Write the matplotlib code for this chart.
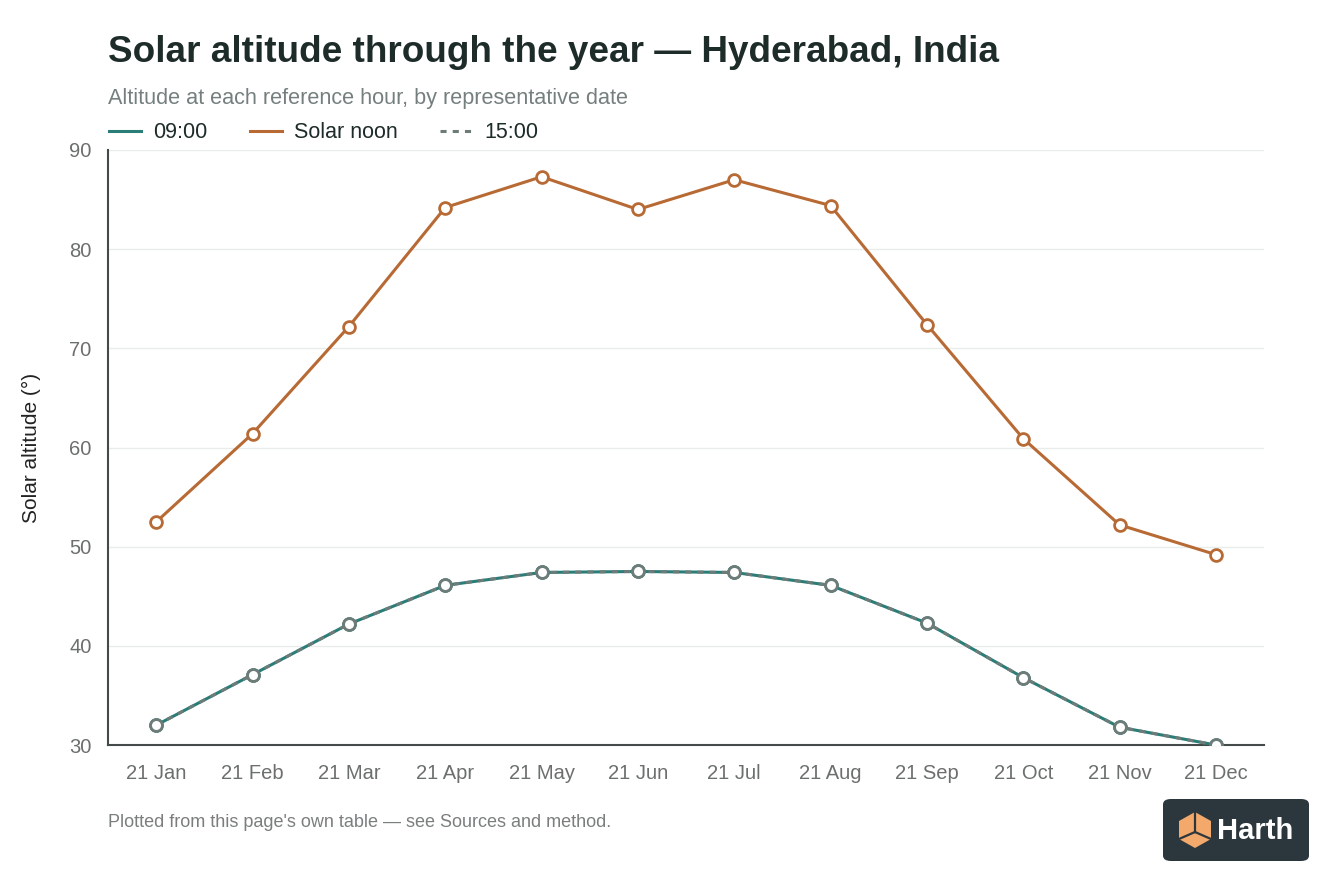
import matplotlib
matplotlib.use("Agg")
import matplotlib.pyplot as plt
from matplotlib.patches import FancyBboxPatch, Polygon
from matplotlib.lines import Line2D

plt.rcParams['font.family'] = ['Liberation Sans', 'DejaVu Sans']

# data
dates = ["21 Jan", "21 Feb", "21 Mar", "21 Apr", "21 May", "21 Jun",
         "21 Jul", "21 Aug", "21 Sep", "21 Oct", "21 Nov", "21 Dec"]
alt_0900 = [32.0, 37.1, 42.2, 46.1, 47.4, 47.5, 47.4, 46.1, 42.3, 36.8, 31.8, 30.0]
alt_noon = [52.5, 61.4, 72.2, 84.2, 87.3, 84.0, 87.0, 84.4, 72.4, 60.9, 52.2, 49.2]
alt_1500 = [32.0, 37.1, 42.2, 46.1, 47.4, 47.5, 47.4, 46.1, 42.3, 36.8, 31.8, 30.0]
yticks = [30, 40, 50, 60, 70, 80, 90]

teal = "#2b7d78"
orange = "#b86a34"
grey = "#6e7c79"

fig = plt.figure(figsize=(13.44, 8.96), dpi=100)
ax = fig.add_axes([0.0804, 0.1685, 0.8601, 0.6641])

x = list(range(len(dates)))
ax.plot(x, alt_0900, color=teal, lw=2.2, marker="o", ms=8.5, mfc="white",
        mec=teal, mew=2, zorder=3, label="09:00")
ax.plot(x, alt_noon, color=orange, lw=2.2, marker="o", ms=8.5, mfc="white",
        mec=orange, mew=2, zorder=3, label="Solar noon")
ax.plot(x, alt_1500, color=grey, lw=2.2, ls=(0, (2, 2)), marker="o", ms=8.5,
        mfc="white", mec=grey, mew=2, zorder=4, label="15:00")

ax.set_xlim(-0.5, len(dates) - 0.5)
ax.set_ylim(30, 90)
ax.set_xticks(x)
ax.set_xticklabels(dates)
ax.set_yticks(yticks)
ax.tick_params(axis="both", length=0, labelsize=14.5, colors="#6b6f6e")
ax.tick_params(axis="x", pad=14)
ax.tick_params(axis="y", pad=12)
ax.grid(axis="y", color="#eaeceb", lw=1)
ax.set_axisbelow(True)
for s in ["top", "right"]:
    ax.spines[s].set_visible(False)
for s in ["left", "bottom"]:
    ax.spines[s].set_color("#444a49")
    ax.spines[s].set_linewidth(1.5)
ax.set_ylabel("Solar altitude (°)", fontsize=15, color="#222", labelpad=20)

# title, subtitle, legend
fig.text(0.0804, 0.941, "Solar altitude through the year \u2014 Hyderabad, India",
         fontsize=26.6, fontweight="bold", color="#1d2b29", va="center")
fig.text(0.0804, 0.890, "Altitude at each reference hour, by representative date",
         fontsize=15.6, color="#75807e", va="center")
handles = [Line2D([], [], color=teal, lw=2.2),
           Line2D([], [], color=orange, lw=2.2),
           Line2D([], [], color=grey, lw=2.2, ls=(0, (2, 2)))]
fig.legend(handles, ["09:00", "Solar noon", "15:00"], loc="center left",
           bbox_to_anchor=(0.0668, 0.852), ncol=3, frameon=False, fontsize=15.5,
           handlelength=1.5, handletextpad=0.56, columnspacing=1.95,
           labelcolor="#1d2b29", borderpad=0.4)

fig.text(0.0804, 0.082, "Plotted from this page's own table \u2014 see Sources and method.",
         fontsize=13, color="#7a7f7e", va="center")

# logo badge
fig.patches.append(FancyBboxPatch((1163 / 1344, 1 - 861 / 896), 146 / 1344, 62 / 896,
                                  boxstyle="round,pad=0,rounding_size=0.006",
                                  transform=fig.transFigure, fc="#2c373d", ec="none"))
cx, cy = 1195, 830
pts = [(cx, cy - 18), (cx + 16, cy - 9), (cx + 16, cy + 9), (cx, cy + 18),
       (cx - 16, cy + 9), (cx - 16, cy - 9)]
fig.patches.append(Polygon([(px / 1344, 1 - py / 896) for px, py in pts],
                           closed=True, transform=fig.transFigure,
                           fc="#f3a96c", ec="none"))
for ex, ey in [(cx, cy - 18), (cx - 16, cy + 9), (cx + 16, cy + 9)]:
    fig.lines.append(Line2D([cx / 1344, ex / 1344], [1 - (cy + 2) / 896, 1 - ey / 896],
                            transform=fig.transFigure, color="#2c373d", lw=1.6))
fig.text(1217 / 1344, 1 - 831 / 896, "Harth", fontsize=21, fontweight="bold",
         color="white", va="center")

fig.savefig("out.png", dpi=100)
